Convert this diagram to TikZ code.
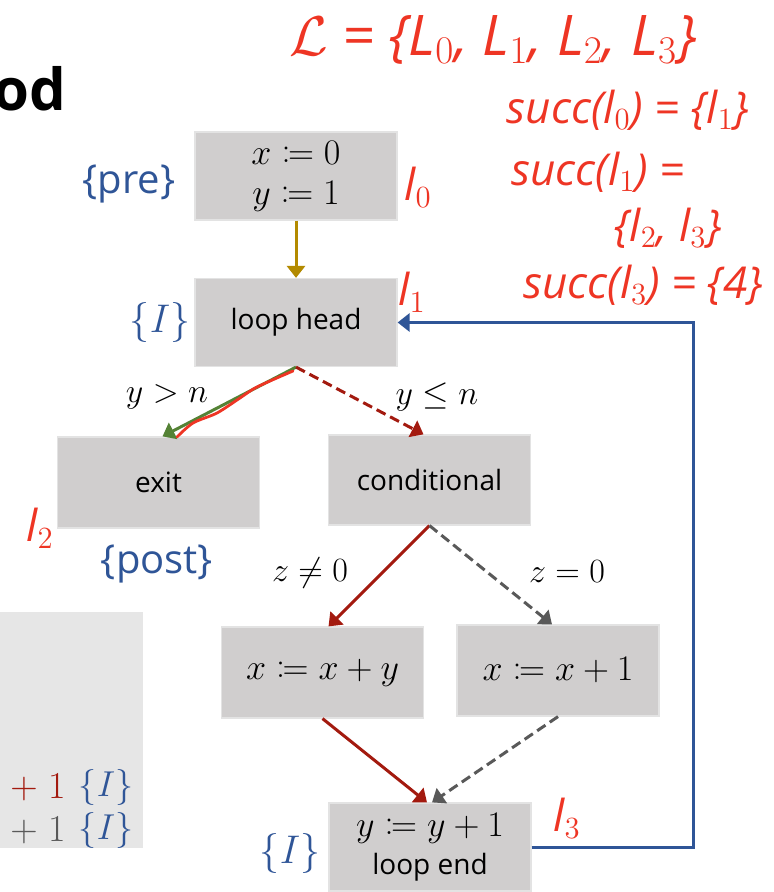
\RequirePackage{fix-cm}
\documentclass[tikz,border=0pt]{standalone}
\usepackage[no-math]{fontspec}
\setmainfont{Open Sans}
\usepackage{amsmath}
\usepackage{mathtools}
\usetikzlibrary{arrows.meta}
\definecolor{boxgray}{HTML}{D0CECE}
\definecolor{boxedge}{HTML}{E3E3E3}
\definecolor{panelgray}{HTML}{E6E6E6}
\definecolor{assnblue}{HTML}{2F5597}
\definecolor{initgold}{HTML}{B38A00}
\definecolor{exitgreen}{HTML}{548235}
\definecolor{takenred}{HTML}{A31A0F}
\definecolor{elsegray}{HTML}{595959}
\definecolor{inkred}{HTML}{EE3524}
\tikzset{
    blk/.style={fill=boxgray, draw=boxedge, line width=0.6pt, minimum width=101pt,
        minimum height=44pt, inner sep=0pt, align=center},
    mathblk/.style={blk, font=\fontsize{18}{20}\selectfont},
    assn/.style={text=assnblue, font=\fontsize{20}{22}\selectfont},
    guard/.style={font=\fontsize{17}{19}\selectfont},
    flow/.style={line width=1.5pt, -{Triangle[length=6pt,width=9pt]}},
    maybe/.style={flow, dash pattern=on 5pt off 2.6pt},
    ink/.style={text=inkred, font=\fontsize{22}{24}\selectfont\itshape},
}
\begin{document}
\begin{tikzpicture}[x=0.5pt, y=-0.5pt, font=\fontsize{14}{18}\selectfont]
        \useasboundingbox (0,0) rectangle (773,892);
        \node[anchor=west, inner sep=0pt, font=\fontsize{29}{31}\selectfont\bfseries] (title) at (-7,89) {od};
        % The panel cut off at the left.
            \fill[panelgray] (0,612) rectangle (143,848);
            \node[text=takenred, font=\fontsize{19}{21}\selectfont] (plusa) at (38,787) {$+\;1$};
            \node[text=elsegray, font=\fontsize{19}{21}\selectfont] (plusb) at (38,830) {$+\;1$};
            \node[assn, font=\fontsize{18}{20}\selectfont] (inva) at (106,787) {$\{I\}$};
            \node[assn, font=\fontsize{18}{20}\selectfont] (invb) at (106,830) {$\{I\}$};
        % These are the blocks of the graph.
            \node[mathblk] (init) at (296,176) {$x \coloneqq 0$\\$y \coloneqq 1$};
            \node[blk] (head) at (296,322.5) {loop head};
            \node[blk, minimum height=45.5pt] (exit) at (158.5,482.5) {exit};
            \node[blk, minimum height=45pt] (cond) at (429.5,480) {conditional};
            \node[mathblk, minimum height=45.5pt] (addy) at (322.5,672.5) {$x \coloneqq x + y$};
            \node[mathblk, minimum height=45.5pt] (addone) at (558,670.5) {$x \coloneqq x + 1$};
            \node[blk] (lend) at (430,847) {\fontsize{18}{20}\selectfont$y \coloneqq y + 1$\\[1pt]loop end};
        % Edges between the blocks.
            \draw[flow, initgold] (init.south) -- (head.north);
            \draw[flow, exitgreen] (head.south) -- ([xshift=2pt]exit.north);
            \draw[maybe, takenred] (head.south) -- ([xshift=-3pt]cond.north);
            \draw[flow, takenred] (cond.south) -- ([xshift=3pt]addy.north);
            \draw[maybe, elsegray] (cond.south) -- ([xshift=-3pt]addone.north);
            \draw[flow, takenred] (addy.south) -- ([xshift=-1.5pt]lend.north);
            \draw[maybe, elsegray] (addone.south) -- ([xshift=1pt]lend.north);
            \coordinate (rail) at (693,600);
            \draw[flow, assnblue] (lend.east) -| (rail) |- (head.east);
        % Below nodes are the labels.
            \node[guard] (gt) at (167,397) {$y > n$};
            \node[guard] (le) at (437,397) {$y \le n$};
            \node[guard] (nz) at (310,573) {$z \ne 0$};
            \node[guard] (ez) at (567,572) {$z = 0$};
            \node[assn] (pre) at (129,184) {\{pre\}};
            \node[assn] (post) at (157,564) {\{post\}};
            \node[assn] (invh) at (160,323) {$\{I\}$};
            \node[assn] (inve) at (290,853) {$\{I\}$};
        % The red ink written over the slide.
            \draw[inkred, line width=1.4pt, line cap=round] plot[smooth] coordinates
                {(293,371) (257,387) (240,398) (217,413) (193,423) (177,437)};
            \node[ink, font=\fontsize{28}{30}\selectfont\itshape] (locs) at (493,40) {$\mathcal{L}$ = \{L$_0$, L$_1$, L$_2$, L$_3$\}};
            \node[ink] (succa) at (628,110) {succ(l$_0$) = \{l$_1$\}};
            \node[ink] (succb) at (598,172) {succ(l$_1$) =};
            \node[ink] (succc) at (668,228) {\{l$_2$, l$_3$\}};
            \node[ink] (succd) at (643,285) {succ(l$_3$) = \{4\}};
            \node[ink] (ia) at (418,187) {l$_0$};
            \node[ink] (ib) at (412,292) {l$_1$};
            \node[ink] (ic) at (40,528) {l$_2$};
            \node[ink] (id) at (567,818) {l$_3$};
    \end{tikzpicture}
\end{document}
